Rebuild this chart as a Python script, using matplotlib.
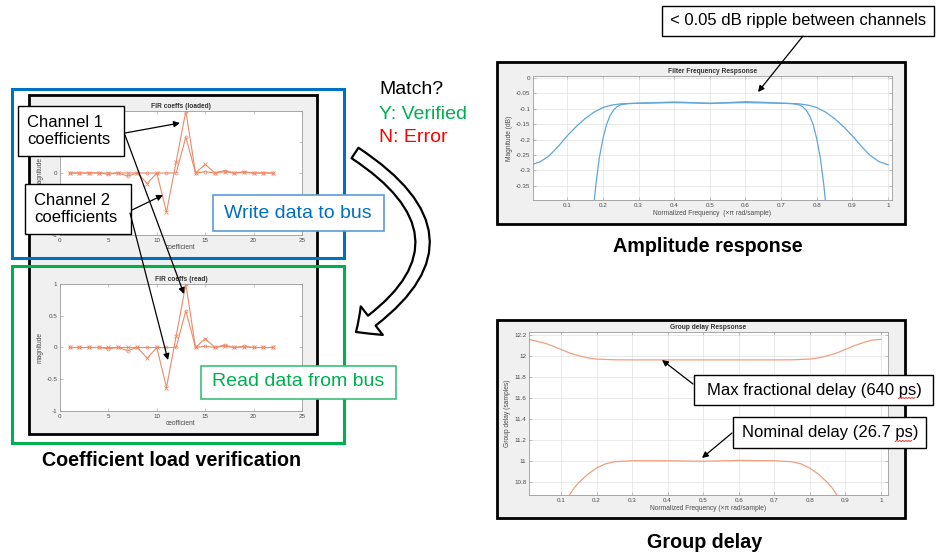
import numpy as np
import matplotlib
matplotlib.use("Agg")
import matplotlib.pyplot as plt
from matplotlib.patches import Rectangle, FancyArrowPatch
from matplotlib.lines import Line2D
from matplotlib.transforms import IdentityTransform

plt.rcParams['font.family'] = ['Liberation Sans', 'DejaVu Sans']

#--FIR coefficients (same in loaded and read-back plots)
coef_idx = [1, 2, 3, 4, 5, 6, 7, 8, 9, 10, 11, 12, 13, 14, 15, 16, 17, 18, 19, 20, 21, 22]
coef_ch1 = [0, 0, 0, 0, 0, 0, 0, 0, -0.17, 0, -0.63, 0.18, 1.0, 0, 0.14, 0, 0.02, 0, 0.01, 0, 0, 0]
coef_ch2 = [0, 0, 0, 0, -0.02, 0, -0.05, 0, 0, 0, 0, 0, 0.58, 0, 0.02, 0, 0.04, 0, 0.02, 0, 0, 0]

#--Amplitude response (dB) of the two channel filters
freq_wide = [0.004, 0.025, 0.05, 0.075, 0.1, 0.125, 0.15, 0.175, 0.2, 0.225, 0.25, 0.3, 0.4,
             0.5, 0.6, 0.7, 0.75, 0.775, 0.8, 0.825, 0.85, 0.875, 0.9, 0.925, 0.95, 0.975, 1.0]
mag_wide = [-0.280, -0.272, -0.252, -0.222, -0.188, -0.158, -0.132, -0.111, -0.096, -0.088,
            -0.084, -0.082, -0.080, -0.082, -0.080, -0.082, -0.084, -0.088, -0.096, -0.111,
            -0.132, -0.158, -0.188, -0.222, -0.252, -0.272, -0.282]
freq_narrow = [0.174, 0.18, 0.19, 0.2, 0.21, 0.22, 0.23, 0.24, 0.25, 0.27, 0.3, 0.35, 0.4, 0.45,
               0.5, 0.55, 0.6, 0.65, 0.7, 0.73, 0.75, 0.76, 0.77, 0.78, 0.79, 0.8, 0.81, 0.82, 0.826]
mag_narrow = [-0.42, -0.35, -0.26, -0.198, -0.152, -0.123, -0.104, -0.093, -0.087, -0.083,
              -0.082, -0.080, -0.078, -0.080, -0.083, -0.080, -0.077, -0.079, -0.082, -0.083,
              -0.087, -0.093, -0.104, -0.123, -0.152, -0.198, -0.26, -0.35, -0.42]

#--Group delay (samples)
freq_gd_hi = [0.01, 0.05, 0.075, 0.1, 0.125, 0.15, 0.175, 0.2, 0.25, 0.3, 0.4, 0.5, 0.6, 0.7,
              0.75, 0.8, 0.825, 0.85, 0.875, 0.9, 0.925, 0.95, 0.975, 1.0]
gd_hi = [12.16, 12.13, 12.10, 12.065, 12.03, 12.005, 11.985, 11.973, 11.966, 11.965, 11.965,
         11.965, 11.965, 11.965, 11.966, 11.973, 11.985, 12.005, 12.03, 12.065, 12.10, 12.13,
         12.155, 12.16]
freq_gd_lo = [0.122, 0.135, 0.15, 0.175, 0.2, 0.225, 0.25, 0.3, 0.4, 0.5, 0.6, 0.7, 0.75,
              0.775, 0.8, 0.825, 0.85, 0.865, 0.878]
gd_lo = [10.66, 10.73, 10.79, 10.87, 10.93, 10.97, 10.99, 11.0, 11.0, 10.995, 11.003, 11.0,
         10.99, 10.97, 10.93, 10.87, 10.79, 10.73, 10.66]

W, H = 937, 556
fig = plt.figure(figsize=(W/100, H/100), dpi=100)
fig.set_facecolor('white')

#--helpers: pixel layout -> figure fraction
def fbox(x0, y0, x1, y1):
  return [x0/W, 1 - y1/H, (x1 - x0)/W, (y1 - y0)/H]

def fpt(x, y):
  return (x/W, 1 - y/H)

def rect(x0, y0, x1, y1, fc='white', ec='black', lw=1.0, z=2):
  r = Rectangle(fpt(x0, y1), (x1 - x0)/W, (y1 - y0)/H, transform=fig.transFigure,
                facecolor=fc, edgecolor=ec, lw=lw, zorder=z)
  fig.add_artist(r)

def arrow(xa, ya, xb, yb):
  a = FancyArrowPatch(fpt(xa, ya), fpt(xb, yb), transform=fig.transFigure,
                      arrowstyle='-|>', mutation_scale=9, lw=0.9, color='black',
                      shrinkA=0, shrinkB=0, zorder=6)
  fig.add_artist(a)

def matlab_axes(box, title):
  ax = fig.add_axes(fbox(*box))
  ax.set_facecolor('white')
  for s in ax.spines.values():
    s.set_color('#9a9a9a')
    s.set_linewidth(0.6)
  ax.tick_params(direction='in', length=2, width=0.4, labelsize=4.5, pad=2,
                 colors='#9a9a9a', labelcolor='#4a4a4a', top=True, right=True)
  ax.set_title(title, fontsize=4.8, fontweight='bold', color='#333333', pad=2)
  return ax

#--red spell-check squiggle under the "ps" at the end of a callout
def squiggle(txt):
  bb = txt.get_window_extent(fig.canvas.get_renderer())
  x1 = bb.x1 - 6
  x0 = x1 - 17
  xs = np.arange(x0, x1 + 0.1, 1.5)
  ys = bb.y0 - 1 + 1.0*(np.arange(len(xs)) % 2)
  fig.add_artist(Line2D(xs, ys, transform=IdentityTransform(), color='#e03030', lw=0.7,
                        zorder=6))

#--MATLAB figure windows (grey backgrounds)
rect(29, 95, 317, 434, fc='#f0f0f0', ec='black', lw=2.0, z=-1)
rect(497, 62, 905, 224, fc='#f0f0f0', ec='black', lw=2.0, z=-1)
rect(497, 320, 905, 518, fc='#f0f0f0', ec='black', lw=2.0, z=-1)

#--Coefficient plots
coef_col = '#ee8a68'
for box, title, xlab in [((60, 111, 302, 235), 'FIR coeffs (loaded)', 'coefficient'),
                         ((60, 284, 302, 411), 'FIR coeffs (read)', 'ceofficient')]:
  ax = matlab_axes(box, title)
  ax.plot(coef_idx, coef_ch1, '-x', color=coef_col, lw=0.8, ms=2.5, mew=0.6)
  ax.plot(coef_idx, coef_ch2, '-o', color=coef_col, lw=0.8, ms=2.2, mew=0.5, mfc='none')
  ax.set_xlim(0, 25)
  ax.set_ylim(-1, 1)
  ax.set_xticks([0, 5, 10, 15, 20, 25])
  ax.set_yticks([-1, -0.5, 0, 0.5, 1])
  ax.set_yticklabels(['-1', '-0.5', '0', '0.5', '1'])
  ax.set_xlabel(xlab, fontsize=4.8, color='#4a4a4a', labelpad=1)
  ax.set_ylabel('magnitude', fontsize=4.8, color='#4a4a4a', labelpad=2)

#--Amplitude response
ax = matlab_axes((533, 76, 892, 200), 'Filter Frequency Respsonse')
amp_col = '#5fa6dc'
ax.plot(freq_wide, mag_wide, color=amp_col, lw=0.9)
ax.plot(freq_narrow, mag_narrow, color=amp_col, lw=0.9)
ax.set_xlim(0.004, 1.011)
ax.set_ylim(-0.3965, 0.0065)
ax.set_xticks([0.1, 0.2, 0.3, 0.4, 0.5, 0.6, 0.7, 0.8, 0.9, 1])
ax.set_xticklabels(['0.1', '0.2', '0.3', '0.4', '0.5', '0.6', '0.7', '0.8', '0.9', '1'])
ax.set_yticks([0, -0.05, -0.1, -0.15, -0.2, -0.25, -0.3, -0.35])
ax.set_yticklabels(['0', '-0.05', '-0.1', '-0.15', '-0.2', '-0.25', '-0.3', '-0.35'])
ax.grid(True, color='#e2e2e2', lw=0.5)
ax.set_xlabel('Normalized Frequency  (\u00d7\u03c0 rad/sample)', fontsize=4.8, color='#4a4a4a', labelpad=1.5)
ax.set_ylabel('Magnitude (dB)', fontsize=4.8, color='#4a4a4a', labelpad=2)

#--Group delay
ax = matlab_axes((529, 332, 888, 495), 'Group delay Respsonse')
gd_col = '#f0a07f'
ax.plot(freq_gd_hi, gd_hi, color=gd_col, lw=0.9)
ax.plot(freq_gd_lo, gd_lo, color=gd_col, lw=0.9)
ax.set_xlim(0.01, 1.02)
ax.set_ylim(10.672, 12.232)
ax.set_xticks([0.1, 0.2, 0.3, 0.4, 0.5, 0.6, 0.7, 0.8, 0.9, 1])
ax.set_xticklabels(['0.1', '0.2', '0.3', '0.4', '0.5', '0.6', '0.7', '0.8', '0.9', '1'])
ax.set_yticks([10.8, 11, 11.2, 11.4, 11.6, 11.8, 12, 12.2])
ax.set_yticklabels(['10.8', '11', '11.2', '11.4', '11.6', '11.8', '12', '12.2'])
ax.grid(True, color='#e2e2e2', lw=0.5)
ax.set_xlabel('Normalized Frequency (\u00d7\u03c0 rad/sample)', fontsize=4.8, color='#4a4a4a', labelpad=1.5)
ax.set_ylabel('Group delay (samples)', fontsize=4.8, color='#4a4a4a', labelpad=2)

#--Write / read framing boxes
rect(12, 89, 344, 258, fc='none', ec='#0070c0', lw=2.2, z=2)
rect(12, 266, 344, 443, fc='none', ec='#00b050', lw=2.2, z=2)

#--Callouts on the coefficient plots
rect(18, 106, 124, 156, z=4)
fig.text(*fpt(27, 131), 'Channel 1\ncoefficients', fontsize=12, ha='left', va='center',
         linespacing=1.2, zorder=5)
rect(25, 184, 131, 234, z=4)
fig.text(*fpt(34, 209), 'Channel 2\ncoefficients', fontsize=12, ha='left', va='center',
         linespacing=1.2, zorder=5)
arrow(125, 133, 180, 123)
arrow(125, 135, 184, 294)
arrow(132, 210, 163, 195)
arrow(130, 213, 168, 360)

rect(213, 195, 384, 231, ec='#5b9bd5', lw=1.2, z=4)
fig.text(*fpt(298, 213), 'Write data to bus', fontsize=14, color='#0070c0', ha='center',
         va='center', zorder=5)
rect(201, 366, 396, 399, ec='#3cc07a', lw=1.2, z=4)
fig.text(*fpt(298, 382), 'Read data from bus', fontsize=14, color='#00b050', ha='center',
         va='center', zorder=5)

fig.text(*fpt(172, 460), 'Coefficient load verification', fontsize=14.2, fontweight='bold',
         ha='center', va='center')

#--Match / verified / error note and curved transfer arrow
fig.text(*fpt(379, 90), 'Match?', fontsize=14, ha='left', va='center')
fig.text(*fpt(379, 114), 'Y: Verified', fontsize=14, color='#00b050', ha='left', va='center')
fig.text(*fpt(379, 138), 'N: Error', fontsize=14, color='#ff0000', ha='left', va='center')
big = FancyArrowPatch(fpt(355, 153), fpt(356, 332), transform=fig.transFigure,
                      connectionstyle='arc3,rad=-0.75',
                      arrowstyle='simple,head_width=2.6,head_length=1.4,tail_width=0.9',
                      mutation_scale=10, facecolor='white', edgecolor='black', lw=1.6,
                      shrinkA=0, shrinkB=0, zorder=3)
fig.add_artist(big)

#--Callouts on the right-hand plots
rect(662, 6, 934, 36, z=4)
fig.text(*fpt(798, 21), '< 0.05 dB ripple between channels', fontsize=12, ha='center',
         va='center', zorder=5)
arrow(803, 36, 758, 92)

rect(694, 375, 933, 405, z=4)
t_max = fig.text(*fpt(814, 390), 'Max fractional delay (640 ps)', fontsize=12, ha='center',
                 va='center', zorder=5)
arrow(693, 384, 662, 360)

rect(733, 417, 926, 448, z=4)
t_nom = fig.text(*fpt(830, 433), 'Nominal delay (26.7 ps)', fontsize=12, ha='center',
                 va='center', zorder=5)
arrow(732, 433, 702, 458)

squiggle(t_max)
squiggle(t_nom)

fig.text(*fpt(708, 246), 'Amplitude response', fontsize=14.2, fontweight='bold',
         ha='center', va='center')
fig.text(*fpt(705, 542), 'Group delay', fontsize=14.2, fontweight='bold',
         ha='center', va='center')

fig.savefig('out.png', dpi=100)
